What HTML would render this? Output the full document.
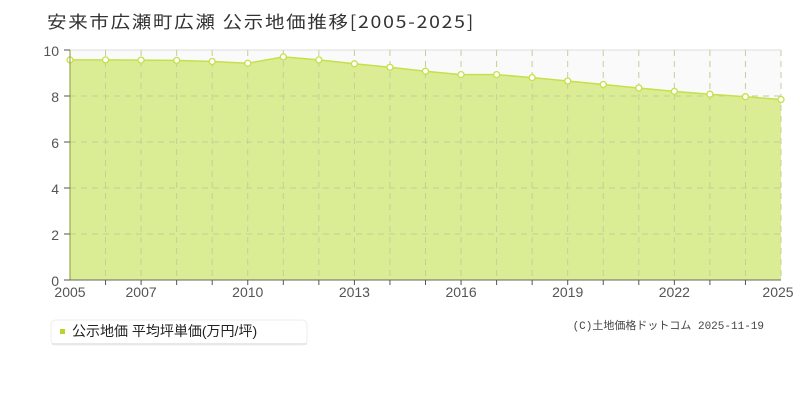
<!DOCTYPE html>
<html><head><meta charset="utf-8"><style>
body{margin:0;background:#fff;width:800px;height:400px;overflow:hidden;font-family:"Liberation Sans","Noto Sans CJK JP",sans-serif}
</style></head><body>
<svg width="800" height="400" xmlns="http://www.w3.org/2000/svg" style="position:absolute;left:0;top:0">
<text x="47" y="28" font-size="17" fill="#333" letter-spacing="1.5" font-family="Noto Sans CJK JP,sans-serif" textLength="428" lengthAdjust="spacingAndGlyphs">安来市広瀬町広瀬 公示地価推移[2005-2025]</text>
<rect x="70" y="50" width="711" height="230" fill="#fafafa"/>
<line x1="70" y1="50" x2="781" y2="50" stroke="#ddd"/>
<polygon fill="#dbed94" points="70,280 70,59.9 105.55,59.9 141.1,60.1 176.65,60.4 212.2,61.5 247.75,63.3 283.3,56.9 318.85,59.9 354.4,63.8 389.95,67.25 425.5,71.2 461.05,74.6 496.6,74.6 532.15,77.6 567.7,81 603.25,84.5 638.8,88 674.35,91.4 709.9,94.2 745.45,96.7 781,99.5 781,280"/>
<g stroke="#c3cf99" stroke-dasharray="6,5" stroke-width="1">
<line x1="70" y1="96" x2="781" y2="96"/><line x1="70" y1="142" x2="781" y2="142"/><line x1="70" y1="188" x2="781" y2="188"/><line x1="70" y1="234" x2="781" y2="234"/>
</g>
<g stroke="#c3cf99" stroke-dasharray="6,5" stroke-width="1">
<line x1="105.55" y1="50" x2="105.55" y2="280"/><line x1="141.1" y1="50" x2="141.1" y2="280"/><line x1="176.65" y1="50" x2="176.65" y2="280"/><line x1="212.2" y1="50" x2="212.2" y2="280"/><line x1="247.75" y1="50" x2="247.75" y2="280"/><line x1="283.3" y1="50" x2="283.3" y2="280"/><line x1="318.85" y1="50" x2="318.85" y2="280"/><line x1="354.4" y1="50" x2="354.4" y2="280"/><line x1="389.95" y1="50" x2="389.95" y2="280"/><line x1="425.5" y1="50" x2="425.5" y2="280"/><line x1="461.05" y1="50" x2="461.05" y2="280"/><line x1="496.6" y1="50" x2="496.6" y2="280"/><line x1="532.15" y1="50" x2="532.15" y2="280"/><line x1="567.7" y1="50" x2="567.7" y2="280"/><line x1="603.25" y1="50" x2="603.25" y2="280"/><line x1="638.8" y1="50" x2="638.8" y2="280"/><line x1="674.35" y1="50" x2="674.35" y2="280"/><line x1="709.9" y1="50" x2="709.9" y2="280"/><line x1="745.45" y1="50" x2="745.45" y2="280"/><line x1="781" y1="50" x2="781" y2="280"/>
</g>
<polyline fill="none" stroke="#c5e04a" stroke-width="1.5" points="70,59.9 105.55,59.9 141.1,60.1 176.65,60.4 212.2,61.5 247.75,63.3 283.3,56.9 318.85,59.9 354.4,63.8 389.95,67.25 425.5,71.2 461.05,74.6 496.6,74.6 532.15,77.6 567.7,81 603.25,84.5 638.8,88 674.35,91.4 709.9,94.2 745.45,96.7 781,99.5"/>
<g fill="#fff" stroke="#c5e04a" stroke-width="1.3">
<circle cx="70" cy="59.9" r="3"/><circle cx="105.55" cy="59.9" r="3"/><circle cx="141.1" cy="60.1" r="3"/><circle cx="176.65" cy="60.4" r="3"/><circle cx="212.2" cy="61.5" r="3"/><circle cx="247.75" cy="63.3" r="3"/><circle cx="283.3" cy="56.9" r="3"/><circle cx="318.85" cy="59.9" r="3"/><circle cx="354.4" cy="63.8" r="3"/><circle cx="389.95" cy="67.25" r="3"/><circle cx="425.5" cy="71.2" r="3"/><circle cx="461.05" cy="74.6" r="3"/><circle cx="496.6" cy="74.6" r="3"/><circle cx="532.15" cy="77.6" r="3"/><circle cx="567.7" cy="81" r="3"/><circle cx="603.25" cy="84.5" r="3"/><circle cx="638.8" cy="88" r="3"/><circle cx="674.35" cy="91.4" r="3"/><circle cx="709.9" cy="94.2" r="3"/><circle cx="745.45" cy="96.7" r="3"/><circle cx="781" cy="99.5" r="3"/>
</g>
<line x1="70" y1="50" x2="70" y2="280" stroke="#8a9a3a"/>
<line x1="70" y1="280" x2="781" y2="280" stroke="#666"/>
<g stroke="#555"><line x1="64" y1="50" x2="70" y2="50"/><line x1="64" y1="96" x2="70" y2="96"/><line x1="64" y1="142" x2="70" y2="142"/><line x1="64" y1="188" x2="70" y2="188"/><line x1="64" y1="234" x2="70" y2="234"/><line x1="64" y1="280" x2="70" y2="280"/>
<line x1="105.55" y1="280" x2="105.55" y2="285"/><line x1="141.1" y1="280" x2="141.1" y2="285"/><line x1="176.65" y1="280" x2="176.65" y2="285"/><line x1="212.2" y1="280" x2="212.2" y2="285"/><line x1="247.75" y1="280" x2="247.75" y2="285"/><line x1="283.3" y1="280" x2="283.3" y2="285"/><line x1="318.85" y1="280" x2="318.85" y2="285"/><line x1="354.4" y1="280" x2="354.4" y2="285"/><line x1="389.95" y1="280" x2="389.95" y2="285"/><line x1="425.5" y1="280" x2="425.5" y2="285"/><line x1="461.05" y1="280" x2="461.05" y2="285"/><line x1="496.6" y1="280" x2="496.6" y2="285"/><line x1="532.15" y1="280" x2="532.15" y2="285"/><line x1="567.7" y1="280" x2="567.7" y2="285"/><line x1="603.25" y1="280" x2="603.25" y2="285"/><line x1="638.8" y1="280" x2="638.8" y2="285"/><line x1="674.35" y1="280" x2="674.35" y2="285"/><line x1="709.9" y1="280" x2="709.9" y2="285"/><line x1="745.45" y1="280" x2="745.45" y2="285"/></g>
<g font-size="14" fill="#555" text-anchor="end">
<text x="59" y="56">10</text><text x="59" y="102">8</text><text x="59" y="148">6</text><text x="59" y="194">4</text><text x="59" y="240">2</text><text x="59" y="286">0</text></g>
<g font-size="14" fill="#555" text-anchor="middle">
<text x="70" y="297">2005</text><text x="141.1" y="297">2007</text><text x="247.75" y="297">2010</text><text x="354.4" y="297">2013</text><text x="461.05" y="297">2016</text><text x="567.7" y="297">2019</text><text x="674.35" y="297">2022</text><text x="778" y="297">2025</text></g>
<rect x="51" y="320" width="256" height="25" rx="5" fill="#fff" stroke="#eee"/>
<rect x="52" y="343" width="255" height="2" fill="#e8e8e8"/>
<rect x="60" y="329" width="5" height="5" fill="#b5d62a"/>
<text x="72" y="336" font-size="14" fill="#222">公示地価 平均坪単価(万円/坪)</text>
<text x="764" y="329" font-size="11" fill="#444" text-anchor="end" font-family="Liberation Mono,Noto Sans CJK JP,monospace">(C)土地価格ドットコム 2025-11-19</text>
</svg>
</body></html>
